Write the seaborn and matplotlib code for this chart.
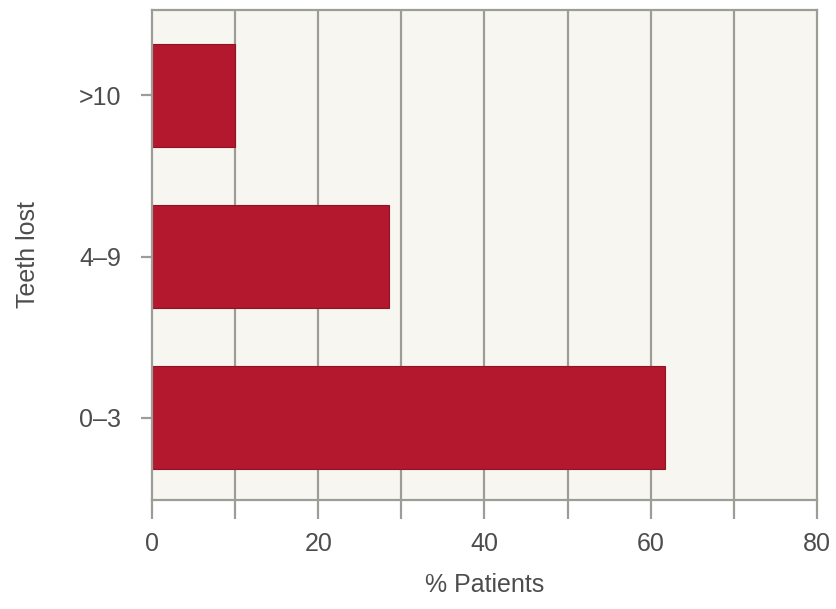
import matplotlib
matplotlib.use("Agg")
import matplotlib.pyplot as plt
import seaborn as sns
import pandas as pd

# data
teeth_lost = [">10", "4\u20139", "0\u20133"]
pct_patients = [10.0, 28.5, 61.7]
x_ticks = [0, 10, 20, 30, 40, 50, 60, 70, 80]
x_tick_labels = ["0", "", "20", "", "40", "", "60", "", "80"]

df = pd.DataFrame({"teeth": teeth_lost, "pct": pct_patients})

sns.set_style("white")
plt.rcParams["font.family"] = ["Liberation Sans", "DejaVu Sans"]

fig = plt.figure(figsize=(8.37, 6.09), dpi=100)
ax = fig.add_axes([0.1816, 0.179, 0.7944, 0.8046])
ax.set_facecolor("#f8f6f1")

grid_col = "#9d9d98"
text_col = "#4d4d4d"
ax.set_xlim(0, 80)
ax.set_xticks(x_ticks)
ax.set_xticklabels(x_tick_labels)
for x in x_ticks[1:-1]:
    ax.axvline(x, color=grid_col, lw=1.6, zorder=0)

sns.barplot(data=df, x="pct", y="teeth", order=teeth_lost, orient="h",
            color="#b3182f", saturation=1, width=0.64,
            edgecolor="#8e1526", linewidth=0.8, ax=ax, zorder=2)

ax.set_ylim(2.51, -0.53)

for side in ["left", "top", "right", "bottom"]:
    ax.spines[side].set_visible(True)
    ax.spines[side].set_color(grid_col)
    ax.spines[side].set_linewidth(1.6)

ax.tick_params(axis="x", direction="out", length=14, width=1.6,
               color=grid_col, labelsize=18, labelcolor=text_col, pad=9)
ax.tick_params(axis="y", direction="out", length=8, width=1.6,
               color=grid_col, labelsize=18, labelcolor=text_col, pad=14)
ax.tick_params(axis="x", bottom=True)
ax.tick_params(axis="y", left=True)

ax.set_xlabel("% Patients", fontsize=18, color=text_col)
ax.set_ylabel("Teeth lost", fontsize=18, color=text_col)
ax.xaxis.set_label_coords(0.5, -0.148)
ax.yaxis.set_label_coords(-0.168, 0.5)

fig.savefig("out.png", dpi=100, facecolor="white")
